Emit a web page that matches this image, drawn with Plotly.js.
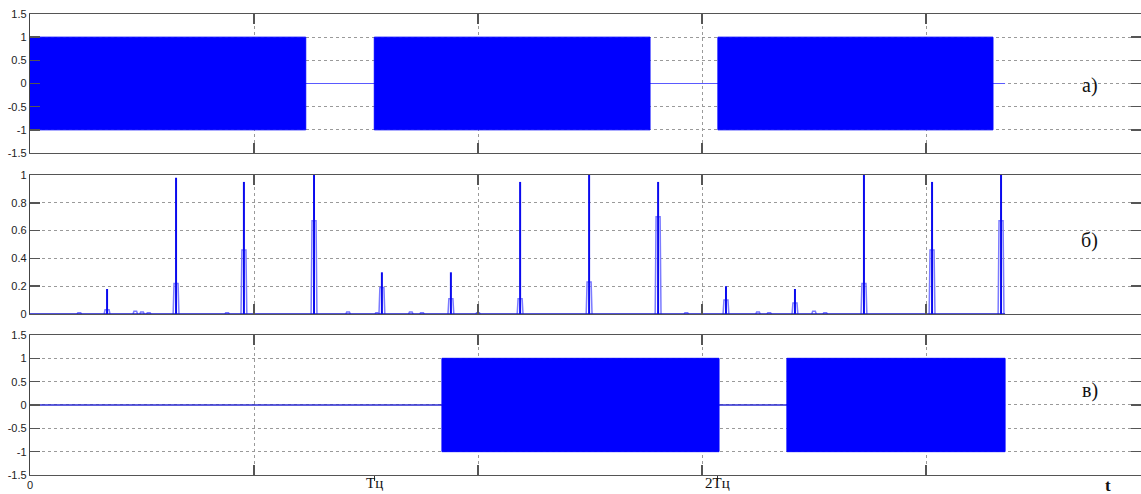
<!DOCTYPE html>
<html>
<head>
<meta charset="utf-8">
<script src="https://cdn.plot.ly/plotly-3.0.1.min.js"></script>
<style>html,body{margin:0;padding:0;background:#fff;}#chart{width:1141px;height:494px;}</style>
</head>
<body>
<div id="chart"></div>
<script>
// Time axis in grid units (one grid division = 1); Tц ≈ 1.536
const tEnd = 4.353;
const periodLabels = ['Тц', '2Тц'];
const periodTimes = [1.536, 3.071];

// Panel а): transmitted bursts (start, end, amplitude)
const burstStartA = [0.0, 1.537, 3.071];
const burstEndA   = [1.231, 2.768, 4.299];
const burstAmpA   = [1.0, 1.0, 1.0];

// Panel б): correlation peaks
const spikeT    = [0.344, 0.652, 0.955, 1.268, 1.571, 1.879, 2.188, 2.496, 2.804, 3.107, 3.415, 3.723, 4.027, 4.335];
const spikePeak = [0.18, 0.98, 0.95, 1.00, 0.30, 0.30, 0.95, 1.00, 0.95, 0.20, 0.18, 1.00, 0.95, 1.00];
const spikeBase = [0.03, 0.22, 0.46, 0.67, 0.19, 0.11, 0.11, 0.23, 0.70, 0.10, 0.08, 0.22, 0.46, 0.67];
const bumpT     = [0.22, 0.47, 0.50, 0.53, 0.88, 1.42, 1.55, 1.70, 1.75, 2.00, 2.93, 3.25, 3.30, 3.50, 3.55];
const bumpH     = [0.01, 0.02, 0.015, 0.01, 0.01, 0.015, 0.01, 0.015, 0.01, 0.01, 0.01, 0.015, 0.01, 0.02, 0.01];

// Panel в): received bursts
const burstStartC = [1.839, 3.379];
const burstEndC   = [3.076, 4.353];
const burstAmpC   = [1.0, 1.0];

function burstPoly(starts, ends, amps) {
  const x = [], y = [];
  starts.forEach((s, i) => {
    const e = ends[i], a = amps[i];
    x.push(s, s, e, e, s, null);
    y.push(-a, a, a, -a, -a, null);
  });
  return {x, y};
}
const pa = burstPoly(burstStartA, burstEndA, burstAmpA);
const pc = burstPoly(burstStartC, burstEndC, burstAmpC);

const lx = [], ly = [];
spikeT.forEach((t, i) => {
  const h = spikeBase[i];
  lx.push(t - 0.013, t - 0.009, t + 0.009, t + 0.013, null);
  ly.push(0, h, h, 0, null);
});
bumpT.forEach((t, i) => {
  lx.push(t - 0.01, t - 0.006, t + 0.006, t + 0.01, null);
  ly.push(0, bumpH[i], bumpH[i], 0, null);
});
const dx = [], dy = [];
spikeT.forEach((t, i) => { dx.push(t, t, null); dy.push(0, spikePeak[i], null); });

const blue = '#0000ff';
const traces = [
  {x: [0, tEnd], y: [0, 0], xaxis: 'x', yaxis: 'y', mode: 'lines', line: {color: '#5a5aff', width: 1.2}, hoverinfo: 'skip'},
  {x: pa.x, y: pa.y, xaxis: 'x', yaxis: 'y', mode: 'lines', fill: 'toself', fillcolor: blue, line: {color: blue, width: 1}, hoverinfo: 'skip'},
  {x: lx, y: ly, xaxis: 'x2', yaxis: 'y2', mode: 'lines', line: {color: '#7b7bff', width: 1.5}, hoverinfo: 'skip'},
  {x: [0, tEnd], y: [0, 0], xaxis: 'x2', yaxis: 'y2', mode: 'lines', line: {color: '#1a1acc', width: 1.5}, hoverinfo: 'skip'},
  {x: dx, y: dy, xaxis: 'x2', yaxis: 'y2', mode: 'lines', line: {color: '#0a0aee', width: 2}, hoverinfo: 'skip'},
  {x: [0, tEnd], y: [0, 0], xaxis: 'x3', yaxis: 'y3', mode: 'lines', line: {color: '#2a2ad0', width: 1.3}, hoverinfo: 'skip'},
  {x: pc.x, y: pc.y, xaxis: 'x3', yaxis: 'y3', mode: 'lines', fill: 'toself', fillcolor: blue, line: {color: blue, width: 1}, hoverinfo: 'skip'},
  {x: periodTimes, y: [0, 0], xaxis: 'x4', yaxis: 'y3', mode: 'markers', marker: {opacity: 0}, hoverinfo: 'skip'}
];

const xr = [0, 1111 / 224];
function xax(domainAnchor, showLabels) {
  return {
    domain: [0, 1], anchor: domainAnchor, range: xr, showgrid: true, gridcolor: '#9a9a9a', griddash: 'dot', gridwidth: 1,
    tickvals: [0, 1, 2, 3, 4], ticktext: showLabels ? ['0', '', '', '', ''] : ['', '', '', '', ''],
    ticks: 'inside', ticklen: 10, tickcolor: '#555', tickwidth: 1.5,
    showline: true, linecolor: '#555', linewidth: 1.2, mirror: 'ticks', zeroline: false,
    tickfont: {family: 'Liberation Sans, Arial, sans-serif', size: 11, color: '#222'}
  };
}
function yax(dom, anchor, rng, vals, text) {
  return {
    domain: dom, anchor: anchor, range: rng, tickvals: vals, ticktext: text,
    showgrid: true, gridcolor: '#9a9a9a', griddash: 'dot', gridwidth: 1,
    ticks: 'inside', ticklen: 10, tickcolor: '#555', tickwidth: 1.5,
    showline: true, linecolor: '#444', linewidth: 1.2, mirror: 'ticks', zeroline: false,
    tickfont: {family: 'Liberation Sans, Arial, sans-serif', size: 11, color: '#222'}
  };
}
const yValsAC = [-1.5, -1, -0.5, 0, 0.5, 1, 1.5];
const yTextAC = ['-1.5', '-1', '-0.5', '0', '0.5', '1', '1.5'];
const yValsB = [0, 0.2, 0.4, 0.6, 0.8, 1];
const yTextB = ['0', '0.2', '0.4', '0.6', '0.8', '1'];

const serif = 'Liberation Serif, Times New Roman, serif';
const annotations = [
  {text: 'а)', xref: 'paper', yref: 'paper', x: 0.963, y: 0.874, showarrow: false, font: {family: serif, size: 20, color: '#111'}},
  {text: 'б)', xref: 'paper', yref: 'paper', x: 0.963, y: 0.5076, showarrow: false, font: {family: serif, size: 20, color: '#111'}},
  {text: 'в)', xref: 'paper', yref: 'paper', x: 0.963, y: 0.154, showarrow: false, font: {family: serif, size: 20, color: '#111'}},
  {text: '<b>t</b>', xref: 'paper', yref: 'paper', x: 0.975, y: 0, yanchor: 'top', yshift: 1, showarrow: false, font: {family: serif, size: 17, color: '#111'}}
];
periodTimes.forEach((t, i) => {
  annotations.push({text: periodLabels[i], xref: 'x3', yref: 'paper', x: t, y: 0, yanchor: 'top', yshift: 2, showarrow: false,
    font: {family: serif, size: 15, color: '#111'}});
});

const layout = {
  width: 1141, height: 494,
  margin: {l: 30, r: 0, t: 14, b: 19},
  paper_bgcolor: '#fff', plot_bgcolor: '#fff', showlegend: false,
  xaxis: xax('y', false),
  xaxis2: xax('y2', false),
  xaxis3: xax('y3', true),
  xaxis4: {overlaying: 'x3', anchor: 'y3', side: 'bottom', range: xr, tickvals: periodTimes, ticktext: ['', ''],
    ticks: 'outside', ticklen: 5, tickcolor: '#333', showgrid: false, zeroline: false, showline: false},
  yaxis: yax([0.6985, 1.0], 'x', [-1.5, 1.5], yValsAC, yTextAC),
  yaxis2: yax([0.3492, 0.6508], 'x2', [0, 1], yValsB, yTextB),
  yaxis3: yax([0, 0.3037], 'x3', [-1.5, 1.5], yValsAC, yTextAC),
  annotations: annotations
};
Plotly.newPlot('chart', traces, layout, {displayModeBar: false, staticPlot: true});
</script>
</body>
</html>
